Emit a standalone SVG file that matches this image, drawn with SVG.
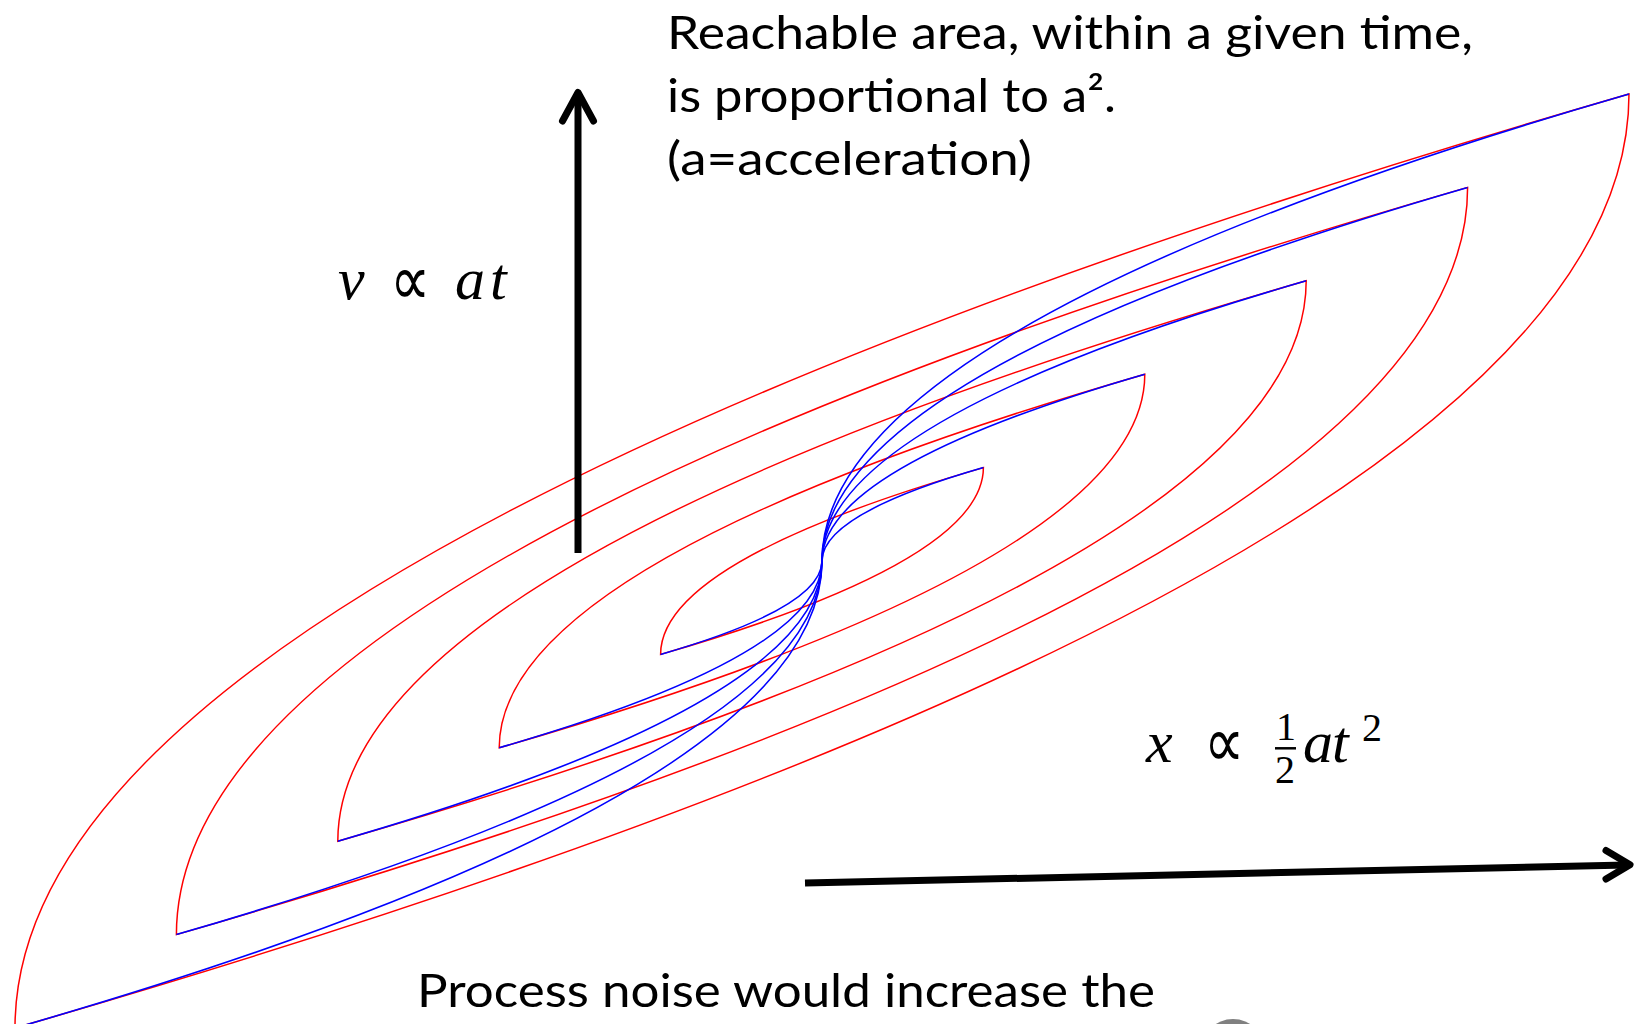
<svg xmlns="http://www.w3.org/2000/svg" width="1635" height="1024" viewBox="0 0 1635 1024">
<style>
.red{fill:none;stroke:#ff0000;stroke-width:1.5}
.blue{fill:none;stroke:#0000ff;stroke-width:1.6}
.txt{font-family:Lato,"Open Sans","Liberation Sans",sans-serif;font-size:47px;fill:#000}
.m{font-family:"Liberation Serif","DejaVu Serif",serif;font-size:60px;fill:#000}
.mi{font-style:italic}
.prop{font-family:"Liberation Serif",serif;font-size:72px;fill:#000}
.ms{font-family:"Liberation Serif","DejaVu Serif",serif;font-size:40px;fill:#000}
.ax{fill:none;stroke:#000;stroke-width:7}
.head{fill:none;stroke:#000;stroke-width:7;stroke-linecap:round;stroke-linejoin:round}
</style>
<rect width="1635" height="1024" fill="#fff"/>
<g id="reach-sets">
<path class="red" d="M15,1028 Q15,561 1629,94 Q1629,561 15,1028 Z"/>
<path class="red" d="M176.4,934.6 Q176.4,561 1467.6,187.4 Q1467.6,561 176.4,934.6 Z"/>
<path class="red" d="M337.8,841.2 Q337.8,561 1306.2,280.8 Q1306.2,561 337.8,841.2 Z"/>
<path class="red" d="M499.2,747.8 Q499.2,561 1144.8,374.2 Q1144.8,561 499.2,747.8 Z"/>
<path class="red" d="M660.6,654.4 Q660.6,561 983.4,467.6 Q983.4,561 660.6,654.4 Z"/>
</g>
<g id="trajectories">
<path class="blue" d="M15,1028 Q822,794.5 822,561 Q822,327.5 1629,94"/>
<path class="blue" d="M176.4,934.6 Q822,747.8 822,561 Q822,374.2 1467.6,187.4"/>
<path class="blue" d="M337.8,841.2 Q822,701.1 822,561 Q822,420.9 1306.2,280.8"/>
<path class="blue" d="M499.2,747.8 Q822,654.4 822,561 Q822,467.6 1144.8,374.2"/>
<path class="blue" d="M660.6,654.4 Q822,607.7 822,561 Q822,514.3 983.4,467.6"/>
</g>
<g id="connectors">
<g id="v-axis">
<line class="ax" x1="578" y1="553" x2="578" y2="96"/>
<polyline class="head" points="562.5,121 578,92.5 593.5,121"/>
</g>
<g id="x-axis">
<line class="ax" x1="805" y1="883" x2="1627" y2="865"/>
<polyline class="head" points="1606,850.5 1630,864.7 1606,879"/>
</g>
</g>
<g id="label-reachable">
<text class="txt" x="667" y="49" textLength="806" lengthAdjust="spacingAndGlyphs">Reachable area, within a given time,</text>
<text class="txt" x="667" y="112" textLength="449" lengthAdjust="spacingAndGlyphs">is proportional to a².</text>
<text class="txt" x="667" y="175" textLength="365" lengthAdjust="spacingAndGlyphs">(a=acceleration)</text>
</g>
<g id="label-v">
<text class="m mi" x="338" y="299">v</text>
<text class="prop" x="390" y="305" textLength="40" lengthAdjust="spacingAndGlyphs">∝</text>
<text class="m mi" x="455" y="299">a</text>
<text class="m mi" x="490" y="299">t</text>
</g>
<g id="label-x">
<text class="m mi" x="1146" y="762">x</text>
<text class="prop" x="1204" y="767" textLength="40" lengthAdjust="spacingAndGlyphs">∝</text>
<text class="ms" x="1276" y="740">1</text>
<line x1="1275" y1="748.3" x2="1296" y2="748.3" stroke="#000" stroke-width="2.5"/>
<text class="ms" x="1275" y="783">2</text>
<text class="m mi" x="1303" y="762">a</text>
<text class="m mi" x="1332" y="762">t</text>
<text class="ms" x="1362" y="741">2</text>
</g>
<g id="label-noise">
<text class="txt" x="417" y="1007" textLength="738" lengthAdjust="spacingAndGlyphs">Process noise would increase the</text>
</g>
<circle id="grey-mark" cx="1233" cy="1051" r="32" fill="#808080"/>
</svg>
